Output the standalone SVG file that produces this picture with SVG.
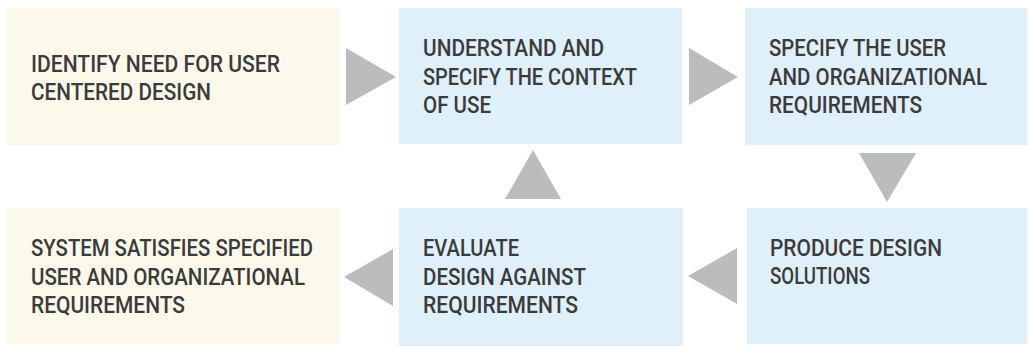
<svg xmlns="http://www.w3.org/2000/svg" width="1030" height="349" viewBox="0 0 1030 349">
<style>
.y{fill:#fdf9ea}
.b{fill:#dff0fb}
.a{fill:#bbbcbe}
text{font-family:Roboto,"Liberation Sans",sans-serif;font-weight:500;font-size:23px;fill:#3b3b3d}
</style>
<rect width="1030" height="349" fill="#ffffff"/>
<g id="n1">
<rect class="y" x="7" y="8" width="332" height="137"/>
<text x="31" y="72" textLength="249" lengthAdjust="spacingAndGlyphs">IDENTIFY NEED FOR USER</text>
<text x="31" y="100" textLength="180" lengthAdjust="spacingAndGlyphs">CENTERED DESIGN</text>
</g>
<g id="n2">
<rect class="b" x="399" y="8" width="283" height="136"/>
<text x="423" y="56" textLength="181" lengthAdjust="spacingAndGlyphs">UNDERSTAND AND</text>
<text x="423" y="85" textLength="214" lengthAdjust="spacingAndGlyphs">SPECIFY THE CONTEXT</text>
<text x="423" y="113" textLength="68" lengthAdjust="spacingAndGlyphs">OF USE</text>
</g>
<g id="n3">
<rect class="b" x="745" y="8" width="282" height="137"/>
<text x="769" y="56" textLength="177" lengthAdjust="spacingAndGlyphs">SPECIFY THE USER</text>
<text x="769" y="85" textLength="218" lengthAdjust="spacingAndGlyphs">AND ORGANIZATIONAL</text>
<text x="769" y="113" textLength="153" lengthAdjust="spacingAndGlyphs">REQUIREMENTS</text>
</g>
<g id="n4">
<rect class="b" x="747" y="208" width="280" height="136"/>
<text x="770" y="256" textLength="172" lengthAdjust="spacingAndGlyphs">PRODUCE DESIGN</text>
<text x="770" y="284" textLength="100" lengthAdjust="spacingAndGlyphs">SOLUTIONS</text>
</g>
<g id="n5">
<rect class="b" x="399" y="208" width="284" height="138"/>
<text x="423" y="256" textLength="96" lengthAdjust="spacingAndGlyphs">EVALUATE</text>
<text x="423" y="285" textLength="163" lengthAdjust="spacingAndGlyphs">DESIGN AGAINST</text>
<text x="423" y="313" textLength="155" lengthAdjust="spacingAndGlyphs">REQUIREMENTS</text>
</g>
<g id="n6">
<rect class="y" x="7" y="208" width="332" height="136"/>
<text x="31" y="256" textLength="282" lengthAdjust="spacingAndGlyphs">SYSTEM SATISFIES SPECIFIED</text>
<text x="31" y="285" textLength="274" lengthAdjust="spacingAndGlyphs">USER AND ORGANIZATIONAL</text>
<text x="31" y="313" textLength="154" lengthAdjust="spacingAndGlyphs">REQUIREMENTS</text>
</g>
<g id="connectors">
<polygon class="a" points="346,48 396,77 346,105"/>
<polygon class="a" points="689,48 738,77 689,105"/>
<polygon class="a" points="859,153 916,153 887,202"/>
<polygon class="a" points="737,248 688,276 737,304"/>
<polygon class="a" points="505,199 561,199 533,150"/>
<polygon class="a" points="393,249 344,277 393,306"/>
</g>
</svg>
